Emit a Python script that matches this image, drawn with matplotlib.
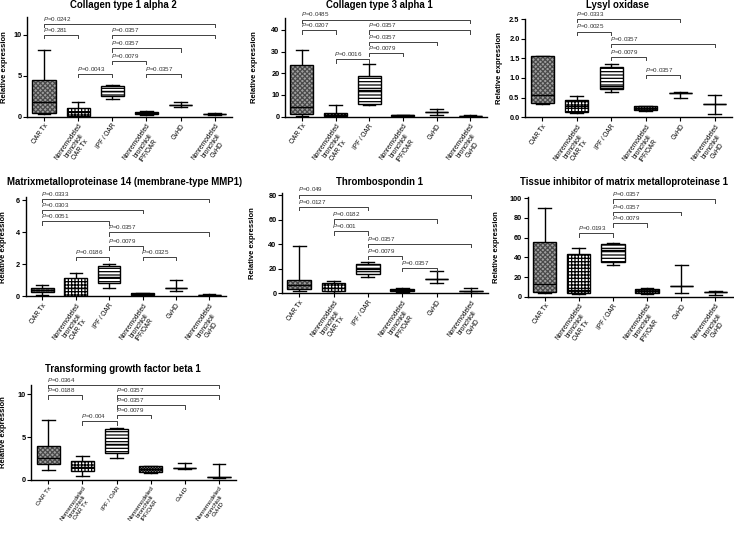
import matplotlib
matplotlib.use("Agg")
import matplotlib.pyplot as plt
from matplotlib.patches import PathPatch
from matplotlib.ticker import FormatStrFormatter

plt.rcParams['font.family'] = ['Liberation Sans', 'DejaVu Sans']
plt.rcParams['mathtext.fontset'] = 'custom'
plt.rcParams['mathtext.it'] = 'Liberation Sans:italic'
plt.rcParams['mathtext.rm'] = 'Liberation Sans'
plt.rcParams['hatch.linewidth'] = 0.9

categories = ["OAR Tx", "Nonremodeled\nbronchioli\nOAR Tx", "IPF / OAR",
              "Nonremodeled\nbronchioli\nIPF/OAR", "GvHD",
              "Nonremodeled\nbronchioli\nGvHD"]

# five-number summaries per group: [whisker low, q1, median, q3, whisker high]
col1a2 = [[0.25, 0.45, 1.75, 4.45, 8.1], [0.05, 0.1, 0.55, 0.98, 1.75],
          [2.15, 2.45, 3.05, 3.75, 3.8], [0.2, 0.25, 0.45, 0.6, 0.65],
          [1.15, 1.4, 1.4, 1.4, 1.75], [0.2, 0.3, 0.3, 0.3, 0.4]]
col3a1 = [[0.3, 1.1, 4.6, 24.0, 30.8], [0.1, 0.2, 1.0, 1.7, 5.3],
          [5.6, 6.0, 12.2, 18.9, 24.3], [0.3, 0.4, 0.6, 0.8, 1.0],
          [0.6, 2.0, 2.0, 2.0, 3.7], [0.2, 0.4, 0.4, 0.4, 0.6]]
lox = [[0.33, 0.36, 0.57, 1.57, 1.57], [0.12, 0.13, 0.3, 0.44, 0.55],
       [0.64, 0.72, 0.8, 1.28, 1.35], [0.17, 0.19, 0.23, 0.28, 0.3],
       [0.5, 0.62, 0.62, 0.62, 0.65], [0.08, 0.34, 0.34, 0.34, 0.56]]
mmp14 = [[0.1, 0.25, 0.38, 0.5, 0.7], [0.03, 0.05, 0.5, 1.15, 1.45],
         [0.5, 0.86, 1.2, 1.87, 2.03], [0.04, 0.06, 0.12, 0.18, 0.2],
         [0.36, 0.52, 0.52, 0.52, 1.05], [0.05, 0.1, 0.1, 0.1, 0.15]]
thbs1 = [[2.2, 3.5, 6.5, 10.6, 38.5], [0.5, 1.6, 4.0, 8.1, 10.0],
         [13.0, 15.4, 19.5, 23.6, 25.2], [1.0, 1.5, 2.5, 3.5, 4.1],
         [8.4, 11.9, 11.9, 11.9, 18.2], [0.5, 1.6, 1.6, 1.6, 4.1]]
timp1 = [[4.0, 4.7, 12.5, 55.6, 89.8], [2.5, 3.4, 6.8, 43.4, 49.2],
         [32.2, 34.9, 47.0, 54.0, 55.0], [2.5, 3.5, 6.0, 8.0, 9.2],
         [4.1, 10.5, 10.5, 10.5, 32.5], [1.5, 4.4, 4.4, 4.4, 6.1]]
tgfb1 = [[1.12, 1.87, 2.5, 3.97, 7.0], [0.45, 0.97, 1.5, 2.17, 2.8],
         [2.5, 3.15, 4.2, 6.0, 6.1], [0.75, 0.95, 1.2, 1.55, 1.6],
         [1.3, 1.39, 1.39, 1.39, 1.95], [0.25, 0.3, 0.3, 0.3, 1.83]]

# significance brackets: (from group, to group, height, p-value text)
br_col1a2 = [(0, 5, 11.3, "0.0242"), (0, 1, 9.96, "0.281"), (2, 5, 9.96, "0.0357"),
             (2, 4, 8.3, "0.0357"), (2, 3, 6.8, "0.0079"), (3, 4, 5.2, "0.0357"),
             (1, 2, 5.2, "0.0043")]
br_col3a1 = [(0, 5, 44.7, "0.0485"), (0, 1, 39.7, "0.0207"), (2, 5, 39.7, "0.0357"),
             (2, 4, 34.4, "0.0357"), (2, 3, 29.3, "0.0079"), (1, 2, 26.4, "0.0016")]
br_lox = [(1, 4, 2.5, "0.0333"), (1, 2, 2.18, "0.0025"), (2, 5, 1.86, "0.0357"),
          (2, 3, 1.54, "0.0079"), (3, 4, 1.08, "0.0357")]
br_mmp14 = [(0, 5, 6.1, "0.0333"), (0, 3, 5.4, "0.0303"), (0, 2, 4.7, "0.0051"),
            (2, 5, 4.0, "0.0357"), (2, 3, 3.12, "0.0079"), (1, 2, 2.45, "0.0186"),
            (3, 4, 2.45, "0.0325")]
br_thbs1 = [(0, 5, 80.5, "0.049"), (0, 2, 70.2, "0.0127"), (1, 4, 60.2, "0.0182"),
            (1, 2, 50.4, "0.001"), (2, 5, 40.1, "0.0357"), (2, 3, 30.4, "0.0079"),
            (3, 4, 20.6, "0.0357")]
br_timp1 = [(2, 5, 99.0, "0.0357"), (2, 4, 86.4, "0.0357"), (2, 3, 74.6, "0.0079"),
            (1, 2, 64.4, "0.0193")]
br_tgfb1 = [(0, 5, 11.1, "0.0364"), (0, 1, 9.9, "0.0188"), (2, 5, 9.9, "0.0357"),
            (2, 4, 8.7, "0.0357"), (2, 3, 7.57, "0.0079"), (1, 2, 6.85, "0.004")]

titles = ["Collagen type 1 alpha 2", "Collagen type 3 alpha 1", "Lysyl oxidase",
          "Matrixmetalloproteinase 14 (membrane-type MMP1)", "Thrombospondin 1",
          "Tissue inhibitor of matrix metalloproteinase 1",
          "Transforming growth factor beta 1"]

W, H = 734, 534
fig = plt.figure(figsize=(W / 100, H / 100), dpi=100)
fig.patch.set_facecolor('white')

# fill styles for the first four groups: (face, hatch colour, hatch)
fills = [('#a0a0a0', '#4a4a4a', 'xxxxxxx'), ('white', 'black', '+++++'),
         ('white', 'black', '-----'), ('black', 'white', '......')]


def panel(rect, ymax, yticks, data, brackets, title, title_xy, ylab_x, fmt=None,
          xlab_size=4.7):
    l, r, t, b = rect
    ax = fig.add_axes([l / W, 1 - b / H, (r - l) / W, (b - t) / H])
    stats = [dict(whislo=s[0], q1=s[1], med=s[2], q3=s[3], whishi=s[4], label="")
             for s in data]
    lw = 1.0
    res = ax.bxp(stats, positions=range(6), widths=0.68, capwidths=0.37,
                 patch_artist=True, showfliers=False,
                 boxprops=dict(facecolor='none', edgecolor='black', linewidth=lw),
                 medianprops=dict(color='black', linewidth=lw),
                 whiskerprops=dict(color='black', linewidth=lw),
                 capprops=dict(color='black', linewidth=lw))
    for k, box in enumerate(res['boxes']):
        box.set_zorder(3)
        if k < 4:
            fc, hc, h = fills[k]
            pp = PathPatch(box.get_path(), facecolor=fc, edgecolor=hc, hatch=h,
                           linewidth=0, zorder=2.5)
            ax.add_patch(pp)
    for m in res['medians']:
        m.set_zorder(4)
    ax.set_xlim(-0.5, 5.5)
    ax.set_ylim(0, ymax)
    ax.set_yticks(yticks)
    if fmt:
        ax.yaxis.set_major_formatter(FormatStrFormatter(fmt))
    for lab in ax.get_yticklabels():
        lab.set_fontweight('bold')
    ax.tick_params(axis='y', labelsize=5.3, length=3, width=0.8, pad=1)
    ax.set_xticks(range(6))
    ax.set_xticklabels(categories, rotation=55, ha='right', va='top',
                       rotation_mode='anchor', multialignment='center',
                       fontsize=xlab_size, linespacing=1.05)
    ax.tick_params(axis='x', length=3, width=0.8, pad=1.2)
    for sp in ['top', 'right']:
        ax.spines[sp].set_visible(False)
    for sp in ['left', 'bottom']:
        ax.spines[sp].set_linewidth(1.0)
    d = 3.3 * ymax / (b - t)
    for i, j, y, p in brackets:
        ax.plot([i, i, j, j], [y - d, y, y, y - d], color='#404040', lw=0.7,
                clip_on=False, zorder=5)
        ax.annotate(r"$P$=" + p, (i - 0.03, y), xytext=(0, 0.8),
                    textcoords='offset points', fontsize=4.5, ha='left', va='bottom',
                    color='#303030', annotation_clip=False)
    fig.text(title_xy[0] / W, 1 - title_xy[1] / H, title, ha='center', va='center',
             fontsize=6.9, fontweight='bold')
    fig.text(ylab_x / W, 1 - (t + b) / 2 / H, "Relative expression", rotation=90,
             ha='center', va='center', fontsize=5.5, fontweight='bold')
    return ax


panel((27, 231.7, 17.3, 116.5), 12.1, [0, 5, 10], col1a2, br_col1a2, titles[0],
      (123, 5.5), 5)
panel((285, 487, 18.3, 116.7), 45.3, [0, 10, 20, 30, 40], col3a1, br_col3a1, titles[1],
      (379, 5.5), 255)
panel((525, 732, 19, 117.3), 2.5, [0, 0.5, 1.0, 1.5, 2.0, 2.5], lox, br_lox, titles[2],
      (617, 5.5), 500, fmt='%.1f')
panel((25.6, 226, 197.3, 296.3), 6.2, [0, 2, 4, 6], mmp14, br_mmp14, titles[3],
      (125, 182.3), 4)
panel((282, 488, 192.7, 293.3), 82, [0, 20, 40, 60, 80], thbs1, br_thbs1, titles[4],
      (380, 181.7), 253)
panel((527.5, 732.5, 196.7, 296.7), 101.6, [0, 20, 40, 60, 80, 100], timp1, br_timp1,
      titles[5], (624, 182.3), 497)
panel((31.2, 236, 385, 479.7), 11.1, [0, 5, 10], tgfb1, br_tgfb1, titles[6],
      (123.3, 369.5), 4, xlab_size=4.5)

fig.savefig("out.png", dpi=100, facecolor='white')
